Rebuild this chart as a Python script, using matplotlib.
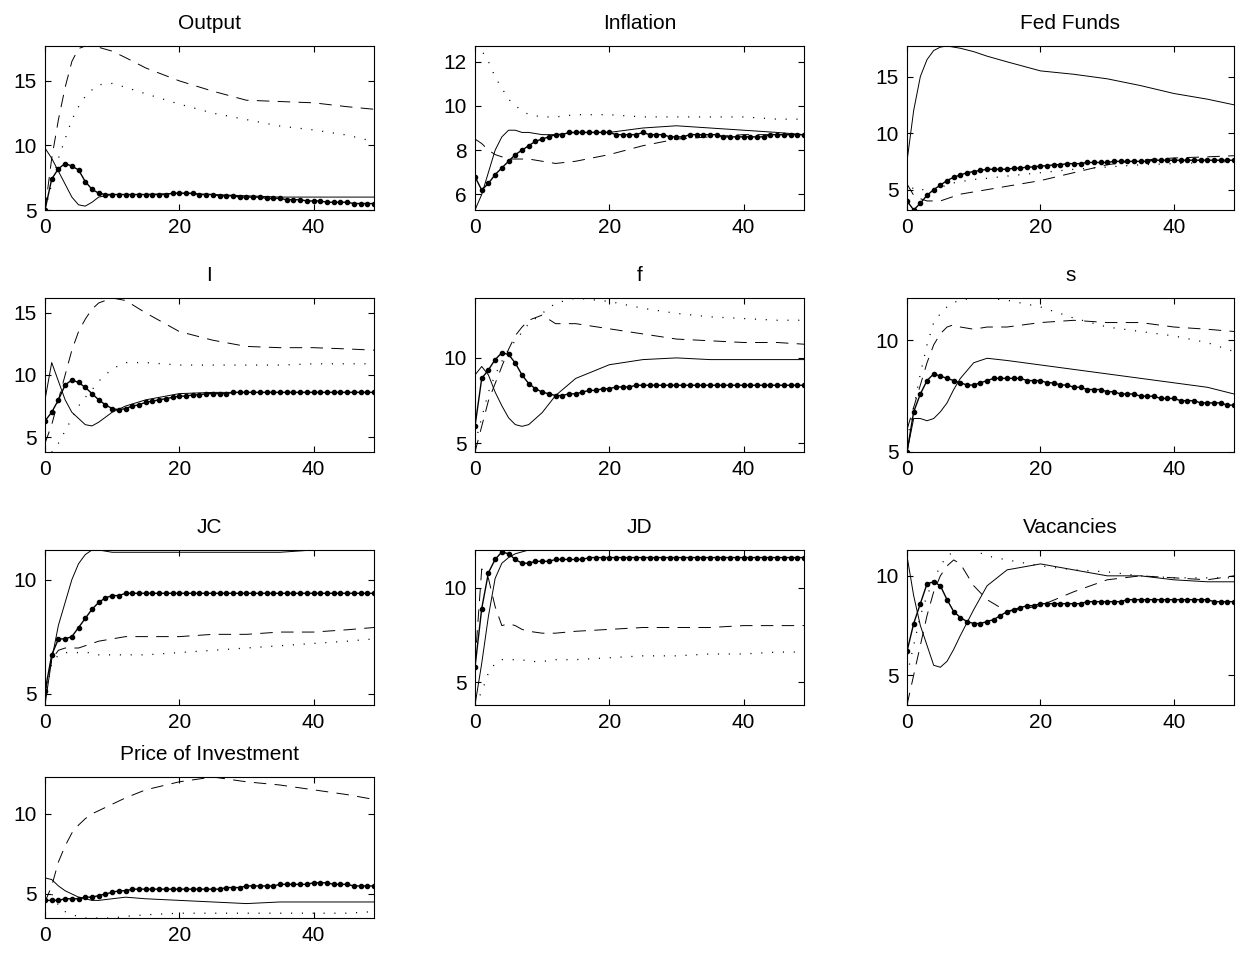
import numpy as np
import matplotlib
matplotlib.use('Agg')
import matplotlib.pyplot as plt

plt.rcParams['font.family'] = ['Liberation Sans', 'DejaVu Sans']
plt.rcParams['lines.scale_dashes'] = False

titles = ['Output', 'Inflation', 'Fed Funds', 'I', 'f', 's', 'JC', 'JD', 'Vacancies', 'Price of Investment']

# knot horizons for the plain lines, full horizon for the marked line
xk = [0, 1, 2, 3, 4, 5, 6, 7, 8, 10, 12, 15, 20, 25, 30, 35, 40, 45, 49]
xf = np.arange(50)

solid = [
    [9.8,9,8,7,6,5.4,5.3,5.6,6,6.2,6.2,6.2,6.3,6.2,6.1,6.0,6.0,6.0,6.0],
    [5.3,6,7,8,8.6,8.9,8.9,8.8,8.8,8.7,8.7,8.8,8.8,9.0,9.1,9.0,8.9,8.8,8.7],
    [7.5,12,15,16.5,17.3,17.6,17.7,17.6,17.5,17.2,16.8,16.3,15.5,15.2,14.8,14.2,13.5,13,12.5],
    [8,11,9.5,8,7,6.5,6,5.9,6.2,7.0,7.5,8.0,8.5,8.6,8.6,8.6,8.6,8.6,8.6],
    [9,9.5,9,8,7.2,6.5,6.1,6.0,6.1,6.8,7.8,8.8,9.6,9.9,10.0,9.9,9.9,9.9,9.9],
    [5,6.5,6.5,6.4,6.5,6.8,7.2,7.8,8.3,9.0,9.2,9.1,8.9,8.7,8.5,8.3,8.1,7.9,7.6],
    [4.5,6.5,8,9,10,10.7,11.1,11.3,11.3,11.2,11.2,11.2,11.2,11.2,11.2,11.2,11.3,11.3,11.3],
    [3.8,6,8.5,10.5,11.3,11.6,11.8,11.9,12.0,12.0,12.0,12.0,12.0,12.0,12.0,12.0,12.0,12.0,12.0],
    [11,9,7.5,6.5,5.5,5.4,5.7,6.3,7.0,8.3,9.5,10.3,10.6,10.3,10.0,10.0,9.8,9.7,9.7],
    [6.0,5.9,5.5,5.2,5.0,4.8,4.7,4.6,4.6,4.7,4.8,4.7,4.6,4.5,4.4,4.5,4.5,4.5,4.5],
]
dashed = [
    [5,9,12,14.5,16.5,17.5,17.7,17.7,17.6,17.3,16.8,16,15,14.2,13.5,13.4,13.3,13,12.8],
    [8.5,8.3,8,7.8,7.7,7.6,7.6,7.6,7.6,7.5,7.4,7.5,7.8,8.2,8.5,8.6,8.7,8.7,8.7],
    [5.5,4.5,4.2,4.0,4.0,4.0,4.2,4.4,4.6,4.8,5.0,5.3,5.8,6.5,7.2,7.6,7.8,7.9,8.0],
    [4.5,6,8,10,12,13.5,14.5,15.3,15.8,16.2,16,15,13.5,12.8,12.3,12.2,12.2,12.1,12.0],
    [4.5,6,7.5,8.5,9.5,10.5,11.3,11.8,12.2,12.5,12,12,11.7,11.4,11.1,11,10.9,10.9,10.8],
    [6,7,8,9,9.8,10.3,10.6,10.7,10.6,10.5,10.6,10.6,10.8,10.9,10.8,10.8,10.6,10.5,10.4],
    [5,6.5,6.9,7.0,7.0,7.0,7.1,7.2,7.3,7.4,7.5,7.5,7.5,7.6,7.6,7.7,7.7,7.8,7.9],
    [6,11,10.5,9,8,8.1,8.0,7.8,7.7,7.6,7.6,7.7,7.8,7.9,7.9,7.9,8.0,8.0,8.0],
    [3.5,5,6.5,8,9.2,10,10.5,10.8,10.6,9.5,8.8,8.2,8.5,9.2,9.8,10.0,9.9,9.8,10.0],
    [4.5,5.5,7,8,8.8,9.3,9.7,10,10.2,10.6,11,11.5,12,12.3,12.0,11.8,11.5,11.2,10.9],
]
dotted = [
    [5,7,9,10.5,12,13,13.8,14.3,14.7,14.8,14.5,14,13.2,12.5,12,11.5,11.2,10.8,10.3],
    [12.7,12.5,12,11.3,10.8,10.3,10,9.8,9.6,9.5,9.5,9.6,9.6,9.5,9.5,9.5,9.5,9.4,9.4],
    [6,5,5,5,5.1,5.2,5.4,5.6,5.7,5.9,6.0,6.2,6.5,6.8,7.0,7.2,7.3,7.4,7.5],
    [4.5,3.8,4.5,5.5,6.5,7.5,8.2,8.8,9.5,10.5,11,11,10.8,10.8,10.8,10.8,10.9,10.9,10.9],
    [5,6.5,8,9,9.8,10.5,11,11.5,12,12.6,13.2,13.5,13.3,12.9,12.6,12.4,12.3,12.2,12.2],
    [5.5,7,8.5,9.8,10.8,11.2,11.5,11.7,11.8,11.9,11.9,11.8,11.5,11,10.6,10.4,10.2,9.9,9.5],
    [4.8,6.3,6.7,6.8,6.8,6.8,6.8,6.8,6.7,6.7,6.7,6.7,6.8,6.9,7.0,7.1,7.2,7.3,7.4],
    [3.8,4.5,5.5,6,6.2,6.2,6.2,6.2,6.1,6.1,6.2,6.2,6.3,6.4,6.4,6.5,6.5,6.6,6.6],
    [5,6.5,8,9,9.8,10.5,11,11.2,11.3,11.3,11.0,10.8,10.5,10.3,10.2,10.0,9.9,9.9,9.9],
    [5.5,5,4.3,3.9,3.7,3.6,3.5,3.5,3.5,3.5,3.6,3.7,3.8,3.8,3.8,3.8,3.8,3.8,3.9],
]
marked = [
    [5,7.4,8.2,8.6,8.4,8.1,7.2,6.6,6.3,6.2,6.2,6.2,6.2,6.2,6.2,6.2,6.2,6.2,6.2,6.3,6.3,6.3,6.3,6.2,6.2,6.2,6.1,6.1,6.1,6.0,6.0,6.0,6.0,5.9,5.9,5.9,5.8,5.8,5.8,5.7,5.7,5.7,5.6,5.6,5.6,5.6,5.5,5.5,5.5,5.5],
    [6.8,6.2,6.5,6.9,7.2,7.5,7.8,8.0,8.2,8.4,8.5,8.6,8.7,8.7,8.8,8.8,8.8,8.8,8.8,8.8,8.8,8.7,8.7,8.7,8.7,8.8,8.7,8.7,8.7,8.6,8.6,8.6,8.7,8.7,8.7,8.7,8.7,8.6,8.6,8.6,8.6,8.6,8.6,8.6,8.7,8.7,8.7,8.7,8.7,8.7],
    [4.0,3.2,3.8,4.5,5.0,5.4,5.8,6.1,6.3,6.5,6.6,6.7,6.8,6.8,6.8,6.8,6.9,6.9,7.0,7.0,7.1,7.1,7.2,7.2,7.3,7.3,7.3,7.4,7.4,7.4,7.4,7.5,7.5,7.5,7.5,7.5,7.5,7.6,7.6,7.6,7.6,7.6,7.6,7.6,7.6,7.6,7.6,7.6,7.6,7.6],
    [6.3,7.0,8.0,9.2,9.6,9.4,9.0,8.5,8.0,7.6,7.3,7.2,7.3,7.5,7.6,7.8,7.9,8.0,8.1,8.2,8.3,8.3,8.4,8.4,8.5,8.5,8.5,8.5,8.6,8.6,8.6,8.6,8.6,8.6,8.6,8.6,8.6,8.6,8.6,8.6,8.6,8.6,8.6,8.6,8.6,8.6,8.6,8.6,8.6,8.6],
    [6.0,8.8,9.3,9.9,10.3,10.2,9.7,9.0,8.5,8.2,8.0,7.9,7.8,7.8,7.9,7.9,8.0,8.1,8.1,8.2,8.2,8.3,8.3,8.3,8.4,8.4,8.4,8.4,8.4,8.4,8.4,8.4,8.4,8.4,8.4,8.4,8.4,8.4,8.4,8.4,8.4,8.4,8.4,8.4,8.4,8.4,8.4,8.4,8.4,8.4],
    [5,6.8,7.6,8.2,8.5,8.4,8.3,8.2,8.1,8.0,8.0,8.1,8.2,8.3,8.3,8.3,8.3,8.3,8.2,8.2,8.2,8.1,8.1,8.0,8.0,7.9,7.9,7.8,7.8,7.8,7.7,7.7,7.6,7.6,7.6,7.5,7.5,7.5,7.4,7.4,7.4,7.3,7.3,7.3,7.2,7.2,7.2,7.2,7.1,7.1],
    [5.1,6.7,7.4,7.4,7.5,7.9,8.3,8.7,9.0,9.2,9.3,9.3,9.4,9.4,9.4,9.4,9.4,9.4,9.4,9.4,9.4,9.4,9.4,9.4,9.4,9.4,9.4,9.4,9.4,9.4,9.4,9.4,9.4,9.4,9.4,9.4,9.4,9.4,9.4,9.4,9.4,9.4,9.4,9.4,9.4,9.4,9.4,9.4,9.4,9.4],
    [5.8,8.9,10.8,11.5,11.9,11.8,11.5,11.3,11.3,11.4,11.4,11.4,11.5,11.5,11.5,11.5,11.5,11.6,11.6,11.6,11.6,11.6,11.6,11.6,11.6,11.6,11.6,11.6,11.6,11.6,11.6,11.6,11.6,11.6,11.6,11.6,11.6,11.6,11.6,11.6,11.6,11.6,11.6,11.6,11.6,11.6,11.6,11.6,11.6,11.6],
    [6.2,7.6,8.6,9.6,9.7,9.5,8.8,8.2,7.9,7.7,7.6,7.6,7.7,7.8,8.0,8.2,8.3,8.4,8.5,8.5,8.6,8.6,8.6,8.6,8.6,8.6,8.6,8.7,8.7,8.7,8.7,8.7,8.7,8.8,8.8,8.8,8.8,8.8,8.8,8.8,8.8,8.8,8.8,8.8,8.8,8.8,8.7,8.7,8.7,8.7],
    [4.6,4.6,4.6,4.7,4.7,4.7,4.8,4.8,4.9,5.0,5.1,5.2,5.2,5.3,5.3,5.3,5.3,5.3,5.3,5.3,5.3,5.3,5.3,5.3,5.3,5.3,5.3,5.4,5.4,5.4,5.5,5.5,5.5,5.5,5.5,5.6,5.6,5.6,5.6,5.6,5.7,5.7,5.7,5.6,5.6,5.6,5.5,5.5,5.5,5.5],
]
yticks = [[5, 10, 15], [6, 8, 10, 12], [5, 10, 15], [5, 10, 15], [5, 10], [5, 10],
          [5, 10], [5, 10], [5, 10], [5, 10]]

W, H = 1238, 957
lefts = [45, 475, 907]
widths = [329, 329, 327]
rows = [(46, 210), (298, 452), (550, 705), (777, 918)]

fig = plt.figure(figsize=(W / 100, H / 100), dpi=100)
for i, t in enumerate(titles):
    r, c = divmod(i, 3)
    top, bot = rows[r]
    ax = fig.add_axes([lefts[c] / W, 1 - bot / H, widths[c] / W, (bot - top) / H])
    ax.plot(xk, solid[i], 'k-', lw=0.7)
    ax.plot(xk, dashed[i], 'k', lw=0.7, dashes=(9, 6))
    ax.plot(xk, dotted[i], 'k', lw=0.9, dashes=(0.8, 7))
    ax.plot(xf, marked[i], 'k-', lw=1.0, marker='o', ms=3)
    allv = np.concatenate([solid[i], dashed[i], dotted[i], marked[i]])
    ax.set_ylim(allv.min(), allv.max())
    ax.set_xlim(0, 49)
    ax.set_xticks([0, 20, 40])
    ax.set_yticks(yticks[i])
    ax.tick_params(direction='in', length=4, labelsize=15, top=True, right=True, pad=6)
    ax.set_title(t, fontsize=15, pad=12)

fig.savefig('out.png', dpi=100)
